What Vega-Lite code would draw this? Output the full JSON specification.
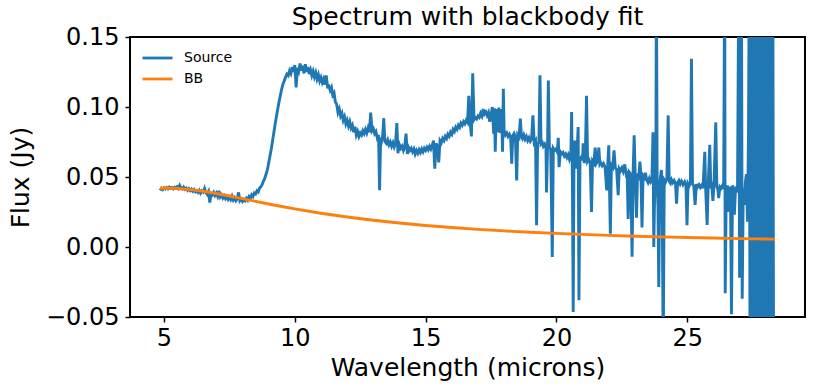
{
  "$schema": "https://vega.github.io/schema/vega-lite/v6.json",
  "width": 675,
  "height": 280,
  "autosize": {"type": "none"},
  "padding": {"left": 130, "top": 37, "right": 8, "bottom": 73},
  "background": "white",
  "config": {
    "font": "DejaVu Sans",
    "view": {"stroke": "black", "strokeWidth": 2},
    "axis": {"grid": false, "domain": false, "tickColor": "black", "tickWidth": 1.5, "tickSize": 5, "labelColor": "black", "titleColor": "black", "labelFont": "DejaVu Sans", "titleFont": "DejaVu Sans", "titleFontWeight": "normal"}
  },
  "title": {"text": "Spectrum with blackbody fit", "fontSize": 25, "fontWeight": "normal", "font": "DejaVu Sans", "color": "black", "offset": -5},
  "datasets": {
    "source": [
      {"w":4.85,"f":0.0405},{"w":4.9,"f":0.0418},{"w":4.95,"f":0.041},{"w":5.0,"f":0.0422},{"w":5.05,"f":0.0414},{"w":5.1,"f":0.0425},{"w":5.15,"f":0.0416},{"w":5.2,"f":0.0428},{"w":5.25,"f":0.0419},{"w":5.3,"f":0.0424},{"w":5.35,"f":0.0415},{"w":5.4,"f":0.0427},{"w":5.45,"f":0.042},{"w":5.5,"f":0.043},{"w":5.55,"f":0.0418},{"w":5.6,"f":0.044},{"w":5.65,"f":0.0422},{"w":5.7,"f":0.0415},{"w":5.75,"f":0.0428},{"w":5.8,"f":0.0412},{"w":5.85,"f":0.042},{"w":5.9,"f":0.0405},{"w":5.95,"f":0.0416},{"w":6.0,"f":0.0402},{"w":6.05,"f":0.0413},{"w":6.1,"f":0.0398},{"w":6.15,"f":0.041},{"w":6.2,"f":0.0395},{"w":6.25,"f":0.0403},{"w":6.3,"f":0.039},{"w":6.35,"f":0.0405},{"w":6.4,"f":0.0385},{"w":6.45,"f":0.04},{"w":6.5,"f":0.0392},{"w":6.55,"f":0.0418},{"w":6.6,"f":0.0388},{"w":6.65,"f":0.0375},{"w":6.7,"f":0.0395},{"w":6.75,"f":0.0318},{"w":6.8,"f":0.038},{"w":6.85,"f":0.0372},{"w":6.9,"f":0.039},{"w":6.95,"f":0.0368},{"w":7.0,"f":0.0385},{"w":7.05,"f":0.0362},{"w":7.1,"f":0.0402},{"w":7.15,"f":0.0358},{"w":7.2,"f":0.0372},{"w":7.25,"f":0.035},{"w":7.3,"f":0.0365},{"w":7.35,"f":0.0345},{"w":7.4,"f":0.036},{"w":7.45,"f":0.034},{"w":7.5,"f":0.0355},{"w":7.55,"f":0.0338},{"w":7.6,"f":0.0362},{"w":7.65,"f":0.0335},{"w":7.7,"f":0.035},{"w":7.75,"f":0.033},{"w":7.8,"f":0.0345},{"w":7.85,"f":0.039},{"w":7.9,"f":0.033},{"w":7.95,"f":0.0342},{"w":8.0,"f":0.0325},{"w":8.05,"f":0.034},{"w":8.1,"f":0.033},{"w":8.15,"f":0.0348},{"w":8.2,"f":0.0335},{"w":8.25,"f":0.036},{"w":8.3,"f":0.0348},{"w":8.35,"f":0.0372},{"w":8.4,"f":0.036},{"w":8.45,"f":0.0385},{"w":8.5,"f":0.0378},{"w":8.55,"f":0.04},{"w":8.6,"f":0.0392},{"w":8.65,"f":0.042},{"w":8.7,"f":0.043},{"w":8.75,"f":0.0445},{"w":8.8,"f":0.047},{"w":8.85,"f":0.049},{"w":8.9,"f":0.052},{"w":8.95,"f":0.055},{"w":9.0,"f":0.06},{"w":9.05,"f":0.065},{"w":9.1,"f":0.07},{"w":9.15,"f":0.076},{"w":9.2,"f":0.082},{"w":9.25,"f":0.088},{"w":9.3,"f":0.0935},{"w":9.35,"f":0.099},{"w":9.4,"f":0.104},{"w":9.45,"f":0.1085},{"w":9.5,"f":0.113},{"w":9.55,"f":0.1165},{"w":9.6,"f":0.119},{"w":9.65,"f":0.1215},{"w":9.7,"f":0.1235},{"w":9.75,"f":0.1225},{"w":9.8,"f":0.126},{"w":9.85,"f":0.124},{"w":9.9,"f":0.1285},{"w":9.95,"f":0.125},{"w":10.0,"f":0.13},{"w":10.05,"f":0.114},{"w":10.1,"f":0.128},{"w":10.15,"f":0.1255},{"w":10.2,"f":0.131},{"w":10.25,"f":0.126},{"w":10.3,"f":0.1295},{"w":10.35,"f":0.124},{"w":10.4,"f":0.1305},{"w":10.45,"f":0.125},{"w":10.5,"f":0.1285},{"w":10.55,"f":0.1235},{"w":10.6,"f":0.1265},{"w":10.65,"f":0.1225},{"w":10.7,"f":0.1255},{"w":10.75,"f":0.1215},{"w":10.8,"f":0.1245},{"w":10.85,"f":0.12},{"w":10.9,"f":0.123},{"w":10.95,"f":0.1185},{"w":11.0,"f":0.121},{"w":11.05,"f":0.1175},{"w":11.1,"f":0.12},{"w":11.15,"f":0.116},{"w":11.2,"f":0.1225},{"w":11.25,"f":0.1145},{"w":11.3,"f":0.115},{"w":11.35,"f":0.112},{"w":11.4,"f":0.114},{"w":11.45,"f":0.1085},{"w":11.5,"f":0.11},{"w":11.55,"f":0.1035},{"w":11.6,"f":0.102},{"w":11.65,"f":0.096},{"w":11.7,"f":0.0985},{"w":11.75,"f":0.0935},{"w":11.8,"f":0.0955},{"w":11.85,"f":0.0905},{"w":11.9,"f":0.093},{"w":11.95,"f":0.088},{"w":12.0,"f":0.0905},{"w":12.05,"f":0.0865},{"w":12.1,"f":0.0895},{"w":12.15,"f":0.085},{"w":12.2,"f":0.087},{"w":12.25,"f":0.082},{"w":12.3,"f":0.086},{"w":12.35,"f":0.08},{"w":12.4,"f":0.0825},{"w":12.45,"f":0.079},{"w":12.5,"f":0.0815},{"w":12.55,"f":0.08},{"w":12.6,"f":0.083},{"w":12.65,"f":0.081},{"w":12.7,"f":0.084},{"w":12.75,"f":0.0815},{"w":12.8,"f":0.085},{"w":12.85,"f":0.082},{"w":12.9,"f":0.096},{"w":12.95,"f":0.083},{"w":13.0,"f":0.0845},{"w":13.05,"f":0.081},{"w":13.1,"f":0.0825},{"w":13.15,"f":0.078},{"w":13.2,"f":0.08},{"w":13.24,"f":0.0405},{"w":13.28,"f":0.078},{"w":13.32,"f":0.076},{"w":13.36,"f":0.08},{"w":13.4,"f":0.092},{"w":13.44,"f":0.0755},{"w":13.5,"f":0.074},{"w":13.55,"f":0.0765},{"w":13.6,"f":0.073},{"w":13.65,"f":0.075},{"w":13.7,"f":0.072},{"w":13.75,"f":0.0745},{"w":13.8,"f":0.0715},{"w":13.85,"f":0.074},{"w":13.9,"f":0.0885},{"w":13.94,"f":0.067},{"w":14.0,"f":0.073},{"w":14.05,"f":0.0705},{"w":14.1,"f":0.072},{"w":14.15,"f":0.069},{"w":14.2,"f":0.0715},{"w":14.25,"f":0.081},{"w":14.3,"f":0.0665},{"w":14.35,"f":0.071},{"w":14.4,"f":0.069},{"w":14.45,"f":0.0705},{"w":14.5,"f":0.068},{"w":14.55,"f":0.07},{"w":14.6,"f":0.0665},{"w":14.65,"f":0.069},{"w":14.7,"f":0.067},{"w":14.75,"f":0.0695},{"w":14.8,"f":0.0675},{"w":14.85,"f":0.07},{"w":14.9,"f":0.068},{"w":14.95,"f":0.0705},{"w":15.0,"f":0.069},{"w":15.05,"f":0.0712},{"w":15.1,"f":0.0695},{"w":15.15,"f":0.072},{"w":15.2,"f":0.07},{"w":15.25,"f":0.0725},{"w":15.3,"f":0.076},{"w":15.35,"f":0.056},{"w":15.4,"f":0.074},{"w":15.45,"f":0.072},{"w":15.5,"f":0.0605},{"w":15.55,"f":0.076},{"w":15.6,"f":0.0745},{"w":15.65,"f":0.0775},{"w":15.7,"f":0.076},{"w":15.75,"f":0.079},{"w":15.8,"f":0.0775},{"w":15.85,"f":0.0805},{"w":15.9,"f":0.079},{"w":15.95,"f":0.082},{"w":16.0,"f":0.0805},{"w":16.05,"f":0.084},{"w":16.1,"f":0.0825},{"w":16.15,"f":0.0855},{"w":16.2,"f":0.084},{"w":16.25,"f":0.087},{"w":16.3,"f":0.0855},{"w":16.35,"f":0.0885},{"w":16.4,"f":0.087},{"w":16.45,"f":0.0895},{"w":16.5,"f":0.088},{"w":16.55,"f":0.0905},{"w":16.6,"f":0.089},{"w":16.65,"f":0.108},{"w":16.7,"f":0.0895},{"w":16.75,"f":0.079},{"w":16.8,"f":0.124},{"w":16.85,"f":0.091},{"w":16.9,"f":0.0925},{"w":16.95,"f":0.0915},{"w":17.0,"f":0.0935},{"w":17.05,"f":0.0925},{"w":17.1,"f":0.0955},{"w":17.15,"f":0.0935},{"w":17.2,"f":0.0985},{"w":17.25,"f":0.095},{"w":17.3,"f":0.0965},{"w":17.35,"f":0.094},{"w":17.4,"f":0.096},{"w":17.45,"f":0.0895},{"w":17.5,"f":0.0945},{"w":17.55,"f":0.1},{"w":17.6,"f":0.081},{"w":17.63,"f":0.099},{"w":17.66,"f":0.068},{"w":17.7,"f":0.0985},{"w":17.75,"f":0.082},{"w":17.8,"f":0.0995},{"w":17.85,"f":0.0815},{"w":17.9,"f":0.0985},{"w":17.94,"f":0.068},{"w":17.97,"f":0.113},{"w":18.0,"f":0.083},{"w":18.05,"f":0.08},{"w":18.1,"f":0.0815},{"w":18.15,"f":0.079},{"w":18.2,"f":0.0805},{"w":18.25,"f":0.078},{"w":18.29,"f":0.0595},{"w":18.33,"f":0.0795},{"w":18.38,"f":0.081},{"w":18.43,"f":0.0785},{"w":18.48,"f":0.0476},{"w":18.52,"f":0.08},{"w":18.57,"f":0.0785},{"w":18.62,"f":0.0917},{"w":18.66,"f":0.079},{"w":18.7,"f":0.0775},{"w":18.75,"f":0.08},{"w":18.8,"f":0.077},{"w":18.85,"f":0.079},{"w":18.9,"f":0.076},{"w":18.95,"f":0.078},{"w":19.0,"f":0.0755},{"w":19.05,"f":0.077},{"w":19.1,"f":0.094},{"w":19.15,"f":0.0745},{"w":19.2,"f":0.076},{"w":19.24,"f":0.0155},{"w":19.28,"f":0.074},{"w":19.33,"f":0.075},{"w":19.37,"f":0.1226},{"w":19.41,"f":0.0735},{"w":19.46,"f":0.0745},{"w":19.5,"f":0.072},{"w":19.55,"f":0.0735},{"w":19.6,"f":0.0705},{"w":19.62,"f":0.039},{"w":19.66,"f":0.072},{"w":19.69,"f":0.119},{"w":19.73,"f":0.071},{"w":19.78,"f":0.07},{"w":19.84,"f":-0.0071},{"w":19.88,"f":0.0705},{"w":19.93,"f":0.069},{"w":19.98,"f":0.07},{"w":20.03,"f":0.068},{"w":20.07,"f":0.078},{"w":20.1,"f":0.057},{"w":20.15,"f":0.068},{"w":20.2,"f":0.0665},{"w":20.25,"f":0.0675},{"w":20.3,"f":0.065},{"w":20.35,"f":0.0665},{"w":20.4,"f":0.064},{"w":20.45,"f":0.066},{"w":20.5,"f":0.0625},{"w":20.55,"f":0.065},{"w":20.58,"f":0.0964},{"w":20.61,"f":0.047},{"w":20.64,"f":-0.0464},{"w":20.67,"f":0.064},{"w":20.7,"f":0.076},{"w":20.74,"f":0.056},{"w":20.78,"f":0.065},{"w":20.83,"f":0.0857},{"w":20.86,"f":-0.038},{"w":20.9,"f":0.062},{"w":20.95,"f":0.064},{"w":21.0,"f":0.062},{"w":21.02,"f":0.074},{"w":21.06,"f":0.06},{"w":21.1,"f":0.0625},{"w":21.15,"f":0.108},{"w":21.19,"f":0.061},{"w":21.24,"f":0.0625},{"w":21.29,"f":0.0605},{"w":21.34,"f":0.025},{"w":21.38,"f":0.0615},{"w":21.43,"f":0.06},{"w":21.48,"f":0.071},{"w":21.52,"f":0.0595},{"w":21.57,"f":0.061},{"w":21.62,"f":0.071},{"w":21.66,"f":0.059},{"w":21.7,"f":0.06},{"w":21.75,"f":0.058},{"w":21.8,"f":0.0595},{"w":21.86,"f":0.057},{"w":21.92,"f":0.0405},{"w":21.96,"f":0.059},{"w":22.0,"f":0.0726},{"w":22.06,"f":0.0095},{"w":22.1,"f":0.0585},{"w":22.15,"f":0.057},{"w":22.2,"f":0.069},{"w":22.25,"f":0.0565},{"w":22.3,"f":0.0555},{"w":22.36,"f":0.037},{"w":22.4,"f":0.056},{"w":22.45,"f":0.0545},{"w":22.5,"f":0.0565},{"w":22.55,"f":0.054},{"w":22.61,"f":0.059},{"w":22.66,"f":0.0525},{"w":22.7,"f":0.054},{"w":22.74,"f":0.02},{"w":22.78,"f":0.0535},{"w":22.84,"f":0.052},{"w":22.89,"f":-0.007},{"w":22.93,"f":0.053},{"w":22.97,"f":0.0798},{"w":23.01,"f":0.051},{"w":23.06,"f":0.021},{"w":23.1,"f":0.0525},{"w":23.15,"f":0.0505},{"w":23.19,"f":0.061},{"w":23.23,"f":0.05},{"w":23.27,"f":0.014},{"w":23.31,"f":0.051},{"w":23.36,"f":0.0495},{"w":23.4,"f":0.053},{"w":23.45,"f":0.048},{"w":23.5,"f":0.046},{"w":23.55,"f":0.049},{"w":23.6,"f":0.0465},{"w":23.65,"f":0.048},{"w":23.69,"f":0.082},{"w":23.72,"f":0.0},{"w":23.76,"f":0.047},{"w":23.8,"f":0.05},{"w":23.82,"f":0.2},{"w":23.85,"f":0.042},{"w":23.88,"f":0.03},{"w":23.91,"f":-0.0286},{"w":23.95,"f":0.046},{"w":24.01,"f":0.055},{"w":24.04,"f":0.044},{"w":24.08,"f":-0.08},{"w":24.12,"f":0.048},{"w":24.17,"f":0.0465},{"w":24.22,"f":0.049},{"w":24.27,"f":0.094},{"w":24.31,"f":0.047},{"w":24.36,"f":0.0455},{"w":24.4,"f":0.048},{"w":24.45,"f":0.046},{"w":24.5,"f":0.0475},{"w":24.55,"f":0.0455},{"w":24.59,"f":0.031},{"w":24.63,"f":0.046},{"w":24.68,"f":0.0475},{"w":24.73,"f":0.045},{"w":24.78,"f":0.047},{"w":24.84,"f":0.0445},{"w":24.9,"f":0.0465},{"w":24.95,"f":0.044},{"w":24.99,"f":0.0155},{"w":25.03,"f":0.0455},{"w":25.08,"f":0.044},{"w":25.12,"f":0.046},{"w":25.16,"f":0.1345},{"w":25.2,"f":0.045},{"w":25.25,"f":0.0435},{"w":25.3,"f":0.03},{"w":25.35,"f":0.045},{"w":25.4,"f":0.043},{"w":25.45,"f":0.0445},{"w":25.5,"f":0.0425},{"w":25.55,"f":0.044},{"w":25.6,"f":0.042},{"w":25.67,"f":0.068},{"w":25.7,"f":0.043},{"w":25.76,"f":0.0157},{"w":25.8,"f":0.044},{"w":25.86,"f":0.073},{"w":25.9,"f":0.042},{"w":25.94,"f":0.0435},{"w":25.98,"f":0.033},{"w":26.02,"f":0.044},{"w":26.09,"f":0.089},{"w":26.13,"f":0.043},{"w":26.17,"f":0.041},{"w":26.2,"f":0.035},{"w":26.25,"f":0.043},{"w":26.3,"f":0.042},{"w":26.35,"f":0.044},{"w":26.39,"f":0.0415},{"w":26.43,"f":0.2},{"w":26.45,"f":-0.033},{"w":26.49,"f":0.042},{"w":26.53,"f":0.044},{"w":26.57,"f":0.025},{"w":26.61,"f":0.043},{"w":26.65,"f":0.041},{"w":26.69,"f":-0.048},{"w":26.73,"f":0.044},{"w":26.77,"f":0.042},{"w":26.8,"f":0.023},{"w":26.84,"f":0.04},{"w":26.88,"f":0.043},{"w":26.92,"f":0.039},{"w":26.97,"f":0.2},{"w":27.0,"f":-0.022},{"w":27.04,"f":0.038},{"w":27.07,"f":0.2},{"w":27.1,"f":-0.037},{"w":27.14,"f":0.042},{"w":27.18,"f":0.03},{"w":27.22,"f":0.046},{"w":27.26,"f":0.052},{"w":27.3,"f":0.018},{"w":27.34,"f":0.08},{"w":27.37,"f":0.2},{"w":27.4,"f":-0.1},{"w":27.43,"f":0.2},{"w":27.46,"f":-0.1},{"w":27.49,"f":0.2},{"w":27.52,"f":-0.1},{"w":27.55,"f":0.2},{"w":27.58,"f":-0.1},{"w":27.61,"f":0.2},{"w":27.64,"f":-0.1},{"w":27.67,"f":0.2},{"w":27.7,"f":-0.1},{"w":27.73,"f":0.2},{"w":27.76,"f":-0.1},{"w":27.79,"f":0.2},{"w":27.82,"f":-0.1},{"w":27.85,"f":0.2},{"w":27.88,"f":-0.1},{"w":27.91,"f":0.2},{"w":27.94,"f":-0.1},{"w":27.97,"f":0.2},{"w":28.0,"f":-0.1},{"w":28.03,"f":0.2},{"w":28.06,"f":-0.1},{"w":28.09,"f":0.2},{"w":28.12,"f":-0.1},{"w":28.15,"f":0.2},{"w":28.18,"f":-0.1},{"w":28.21,"f":0.2},{"w":28.24,"f":-0.1},{"w":28.27,"f":0.2},{"w":28.3,"f":-0.1}
    ],
    "bb": [
      {"w":4.85,"f":0.042},{"w":5.0,"f":0.0421},{"w":5.5,"f":0.0418},{"w":6.0,"f":0.041},{"w":6.5,"f":0.0398},{"w":7.0,"f":0.0382},{"w":7.5,"f":0.0364},{"w":8.0,"f":0.0345},{"w":8.5,"f":0.0326},{"w":9.0,"f":0.0307},{"w":9.5,"f":0.0289},{"w":10.0,"f":0.0272},{"w":11.0,"f":0.0241},{"w":12.0,"f":0.0214},{"w":13.0,"f":0.0191},{"w":14.0,"f":0.0171},{"w":15.0,"f":0.0154},{"w":16.0,"f":0.0139},{"w":17.0,"f":0.0126},{"w":18.0,"f":0.0115},{"w":19.0,"f":0.0105},{"w":20.0,"f":0.0097},{"w":21.0,"f":0.009},{"w":22.0,"f":0.0083},{"w":23.0,"f":0.0077},{"w":24.0,"f":0.0072},{"w":25.0,"f":0.0068},{"w":26.0,"f":0.0064},{"w":27.0,"f":0.006},{"w":28.0,"f":0.0057},{"w":28.35,"f":0.0056}
    ]
  },
  "layer": [
    {
      "data": {"name": "source"},
      "mark": {"type": "line", "strokeWidth": 2.9, "clip": true},
      "encoding": {
        "x": {"field": "w", "type": "quantitative", "scale": {"domain": [3.7, 29.5], "nice": false, "zero": false}, "axis": {"values": [5, 10, 15, 20, 25], "title": "Wavelength (microns)", "labelFontSize": 24, "titleFontSize": 25, "labelPadding": 4, "titlePadding": 5}},
        "y": {"field": "f", "type": "quantitative", "scale": {"domain": [-0.05, 0.15], "nice": false, "zero": false}, "axis": {"values": [-0.05, 0, 0.05, 0.1, 0.15], "format": ".2f", "title": "Flux (Jy)", "labelFontSize": 24, "titleFontSize": 25, "labelPadding": 6, "titlePadding": 12}},
        "color": {"datum": "Source", "type": "nominal", "scale": {"domain": ["Source", "BB"], "range": ["#1f77b4", "#ff7f0e"]}, "legend": {"title": null, "orient": "none", "legendX": 11, "legendY": 13, "symbolType": "stroke", "symbolSize": 900, "symbolStrokeWidth": 2.8, "labelFontSize": 14, "labelFont": "DejaVu Sans", "labelColor": "black", "clipHeight": 16, "rowPadding": 5, "padding": 0, "labelOffset": 10}}
      }
    },
    {
      "data": {"name": "bb"},
      "mark": {"type": "line", "strokeWidth": 2.9, "clip": true},
      "encoding": {
        "x": {"field": "w", "type": "quantitative"},
        "y": {"field": "f", "type": "quantitative"},
        "color": {"datum": "BB", "type": "nominal"}
      }
    }
  ]
}
